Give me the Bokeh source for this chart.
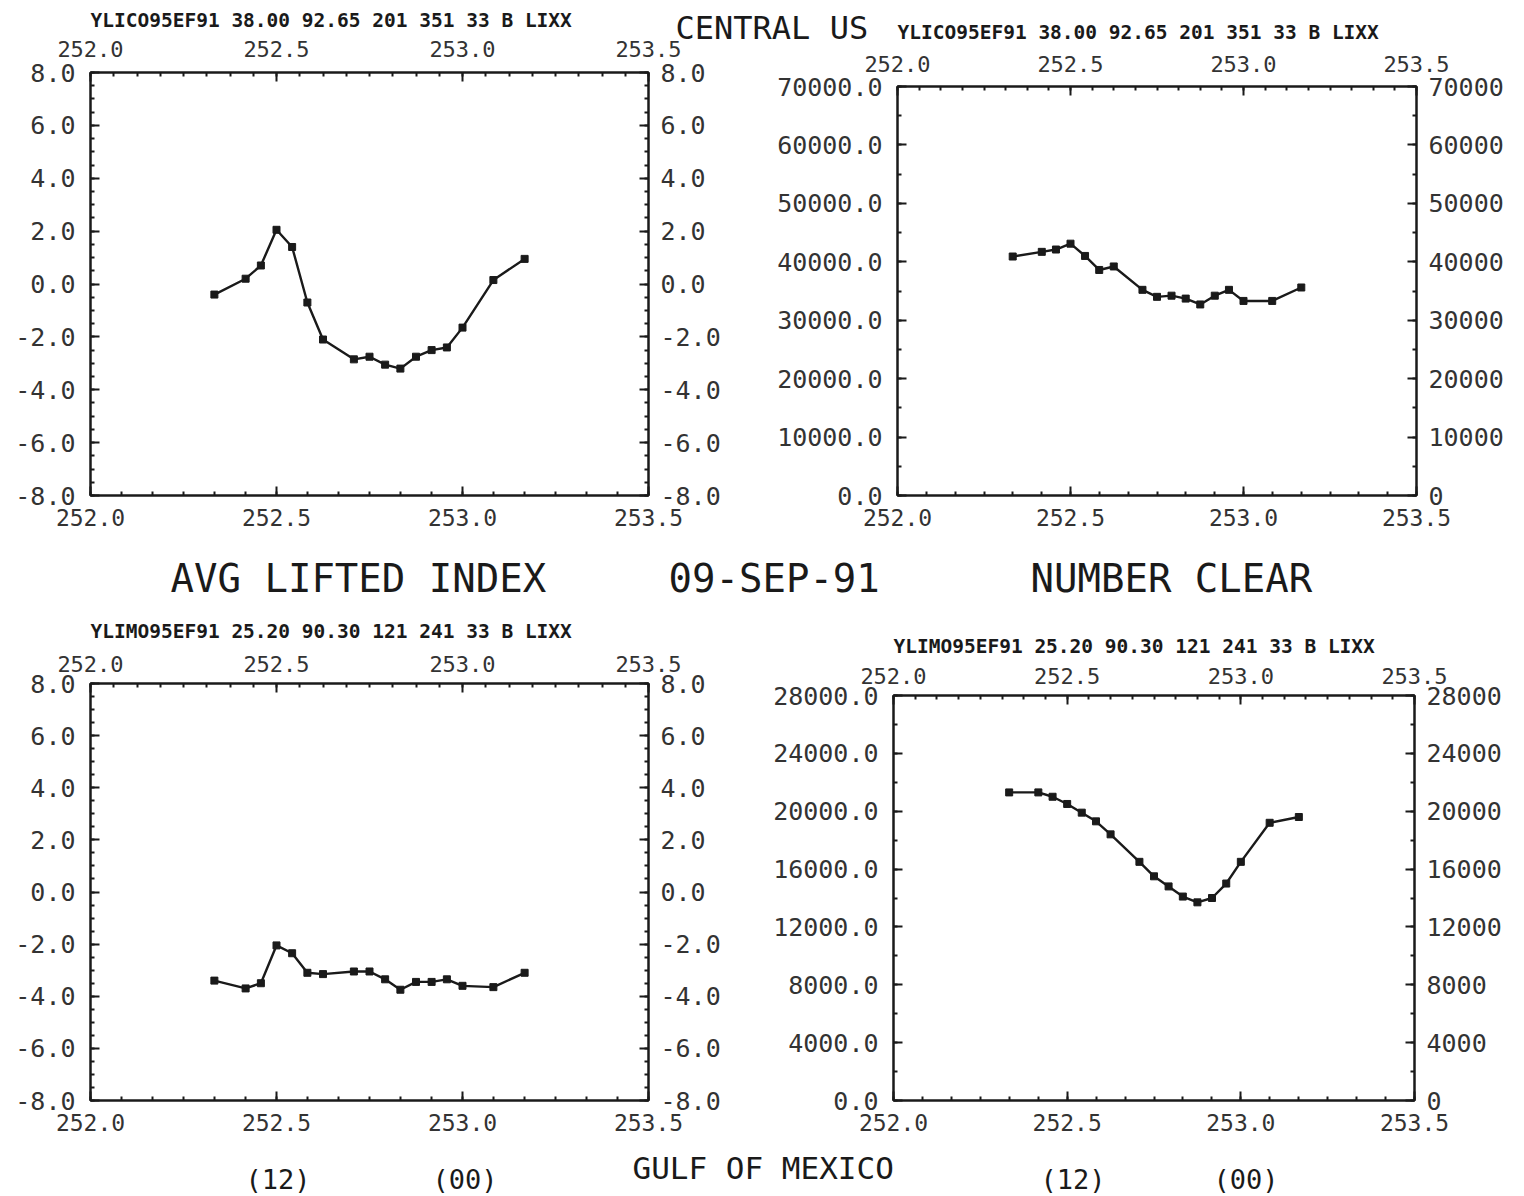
from bokeh.plotting import figure
from bokeh.models import (LinearAxis, Range1d, SingleIntervalTicker,
                          NumeralTickFormatter, Label)
from bokeh.layouts import column, row
from bokeh.embed import file_html
from bokeh.resources import INLINE

# ---------------- data (day of year, 1991) ----------------
day = [252.333, 252.417, 252.458, 252.500, 252.542, 252.583, 252.625,
       252.708, 252.750, 252.792, 252.833, 252.875, 252.917, 252.958,
       253.000, 253.083, 253.167]

li_central = [-0.4, 0.2, 0.7, 2.05, 1.4, -0.7, -2.1, -2.85, -2.75, -3.05,
              -3.2, -2.75, -2.5, -2.4, -1.65, 0.15, 0.95]
clear_central = [40900, 41700, 42100, 43100, 41000, 38600, 39200, 35200,
                 34000, 34200, 33700, 32700, 34200, 35200, 33300, 33300,
                 35600]
li_gulf = [-3.4, -3.7, -3.5, -2.05, -2.35, -3.1, -3.15, -3.05, -3.05, -3.35,
           -3.75, -3.45, -3.45, -3.35, -3.6, -3.65, -3.1]
clear_gulf = [21300, 21300, 21000, 20500, 19900, 19300, 18400, 16500, 15500,
              14800, 14100, 13700, 14000, 15000, 16500, 19200, 19600]

x_start, x_end = 252.0, 253.5
sub_central = "YLICO95EF91 38.00 92.65 201 351 33 B LIXX"
sub_gulf = "YLIMO95EF91 25.20 90.30 121 241 33 B LIXX"

FONT = "DejaVu Sans Mono"
INK = "#1a1a1a"
LAB = "#333333"
PAGE_W = 1522


def no_grid(p):
    for g in p.grid:
        g.visible = False


def style_axis(ax, size):
    ax.major_label_text_font = FONT
    ax.major_label_text_font_size = size
    ax.major_label_text_color = LAB
    ax.axis_line_width = 2
    ax.axis_line_color = INK
    ax.major_tick_in = 9
    ax.major_tick_out = 0
    ax.minor_tick_in = 4
    ax.minor_tick_out = 0
    ax.major_tick_line_width = 2
    ax.minor_tick_line_width = 2
    ax.major_tick_line_color = INK
    ax.minor_tick_line_color = INK


def panel(w, h, b_left, b_right, b_top, b_bottom, y0, y1, ystep, yminor,
          fmt_left, fmt_right, yvals, top_standoff=11,
          subtitle=None, sub_standoff=8):
    p = figure(width=w, height=h, x_range=Range1d(x_start, x_end),
               y_range=Range1d(y0, y1), output_backend="svg",
               toolbar_location=None, x_axis_location=None,
               y_axis_location=None, title=subtitle,
               min_border_left=b_left, min_border_right=b_right,
               min_border_top=b_top, min_border_bottom=b_bottom)
    no_grid(p)
    p.outline_line_color = INK
    p.outline_line_width = 2
    p.background_fill_color = "white"
    p.border_fill_alpha = 0
    if subtitle is not None:
        p.title.align = "left"
        p.title.text_font = FONT
        p.title.text_font_size = "19.5px"
        p.title.text_font_style = "bold"
        p.title.text_color = INK
        p.title.standoff = sub_standoff

    top = LinearAxis(ticker=SingleIntervalTicker(interval=0.5, num_minor_ticks=8),
                     formatter=NumeralTickFormatter(format="0.0"))
    style_axis(top, "22px")
    top.major_label_standoff = top_standoff
    p.add_layout(top, "above")

    bot = LinearAxis(ticker=SingleIntervalTicker(interval=0.5, num_minor_ticks=6),
                     formatter=NumeralTickFormatter(format="0.0"))
    style_axis(bot, "23px")
    bot.major_label_standoff = 13
    p.add_layout(bot, "below")

    left = LinearAxis(ticker=SingleIntervalTicker(interval=ystep, num_minor_ticks=yminor),
                      formatter=NumeralTickFormatter(format=fmt_left))
    style_axis(left, "25px")
    left.major_label_standoff = 15
    p.add_layout(left, "left")

    right = LinearAxis(ticker=SingleIntervalTicker(interval=ystep, num_minor_ticks=yminor),
                       formatter=NumeralTickFormatter(format=fmt_right))
    style_axis(right, "25px")
    right.major_label_standoff = 12
    p.add_layout(right, "right")

    p.line(day, yvals, line_color=INK, line_width=2.4)
    p.scatter(day, yvals, marker="square", size=7, color=INK)
    return p


def strip(y_top, y_bottom, **kw):
    s = figure(width=PAGE_W, height=y_bottom - y_top, title=None,
               x_range=Range1d(0, PAGE_W), y_range=Range1d(y_bottom, y_top),
               output_backend="svg", toolbar_location=None,
               x_axis_location=None, y_axis_location=None,
               min_border=0, outline_line_color=None, **kw)
    no_grid(s)
    s.background_fill_color = "white"
    s.border_fill_color = "white"
    return s


def put(s, x, baseline, text, size, bold=False):
    # Bokeh draws the alphabetic baseline about 0.35 em below the anchor
    s.add_layout(Label(x=x, y=baseline - 0.35 * size, text=text, text_font=FONT,
                       text_font_size=f"{size}px", text_color=INK,
                       text_font_style="bold" if bold else "normal",
                       text_baseline="alphabetic", text_align="left"))


# top strip: y 0 -> 46, the top row slides 24 px under it (transparent borders)
s_top = strip(0, 46, margin=(0, 0, -24, 0))
put(s_top, 90, 27, sub_central, 19.5, bold=True)
put(s_top, 675, 39, "CENTRAL US", 32)
put(s_top, 897, 39, sub_central, 19.5, bold=True)

# top row: y 22 -> 540
tl = panel(766, 518, 90, 118, 50, 45, -8, 8, 2, 4, "0.0", "0.0", li_central,
           top_standoff=16)
tr = panel(756, 518, 131, 106, 64, 45, 0, 70000, 10000, 2, "0.0", "0", clear_central,
           top_standoff=15)

# middle strip: y 540 -> 600
s_mid = strip(540, 600)
put(s_mid, 170, 592, "AVG LIFTED INDEX", 39)
put(s_mid, 668, 592, "09-SEP-91", 39)
put(s_mid, 1030, 592, "NUMBER CLEAR", 39)

# bottom row: y 600 -> 1145
bl = panel(766, 545, 90, 118, 83, 45, -8, 8, 2, 4, "0.0", "0.0", li_gulf,
           top_standoff=12, subtitle=sub_gulf, sub_standoff=20)
br = panel(756, 545, 127, 108, 95, 45, 0, 28000, 4000, 2, "0.0", "0", clear_gulf,
           top_standoff=12, subtitle=sub_gulf, sub_standoff=14)

# bottom strip: y 1145 -> 1194
s_bot = strip(1145, 1194)
put(s_bot, 632, 1178, "GULF OF MEXICO", 31)
put(s_bot, 245, 1188, "(12)", 27)
put(s_bot, 432, 1188, "(00)", 27)
put(s_bot, 1040, 1188, "(12)", 27)
put(s_bot, 1213, 1188, "(00)", 27)

layout = column(s_top,
                row(column(tl), column(tr)),
                s_mid,
                row(column(bl), column(br)),
                s_bot)

open("out.html", "w").write(file_html(layout, INLINE, title="Lifted index and number clear"))
